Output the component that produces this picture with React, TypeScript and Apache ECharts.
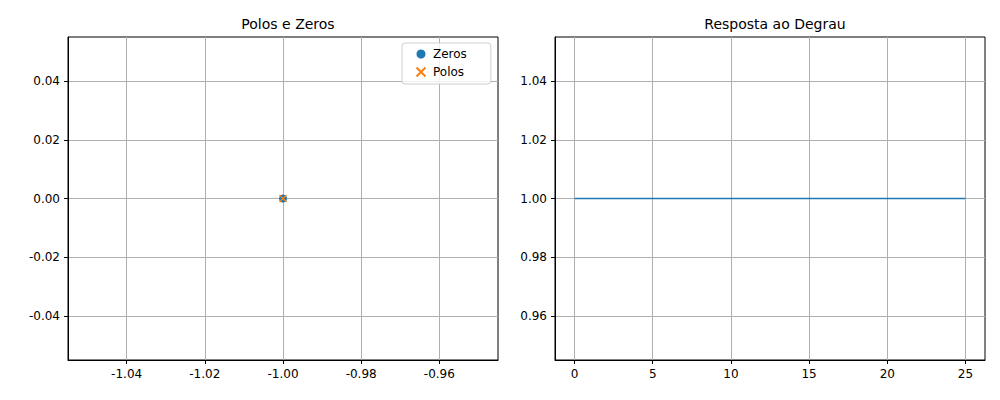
import React from "react";
import * as echarts from "echarts";

const zeros = [[-1, 0]];
const poles = [[-1, 0]];
const poleZeroXTicks = [-1.04, -1.02, -1.0, -0.98, -0.96];
const poleZeroYTicks = [-0.04, -0.02, 0, 0.02, 0.04];
const stepTime = [0, 1, 2, 3, 4, 5, 6, 7, 8, 9, 10, 11, 12, 13, 14, 15, 16, 17, 18, 19, 20, 21, 22, 23, 24, 25];
const stepValue = [1, 1, 1, 1, 1, 1, 1, 1, 1, 1, 1, 1, 1, 1, 1, 1, 1, 1, 1, 1, 1, 1, 1, 1, 1, 1];
const stepXTicks = [0, 5, 10, 15, 20, 25];
const stepYTicks = [0.96, 0.98, 1.0, 1.02, 1.04];

const font = "DejaVu Sans";
const cross = "path://M0,0L10,10M10,0L0,10";

function axis(min: number, max: number, ticks: number[], fmt: (v: number) => string) {
  return {
    type: "value",
    min,
    max,
    axisLine: { show: true, onZero: false, lineStyle: { color: "#000" } },
    axisTick: { show: true, customValues: ticks, length: 4, lineStyle: { color: "#000" } },
    axisLabel: { customValues: ticks, color: "#000", fontFamily: font, fontSize: 12, formatter: fmt },
    splitLine: { show: true, lineStyle: { color: "#b0b0b0", width: 1 } },
  };
}

export default function App() {
  const ref = React.useRef<HTMLDivElement>(null);

  React.useEffect(() => {
    if (!ref.current) return;
    const chart = echarts.init(ref.current, null, { renderer: "svg" });
    const f2 = (v: number) => v.toFixed(2);
    chart.setOption({
      animation: false,
      textStyle: { fontFamily: font },
      title: [
        { text: "Polos e Zeros", left: 283, top: 12, textAlign: "center", textStyle: { fontFamily: font, fontSize: 14, fontWeight: "normal", color: "#000" } },
        { text: "Resposta ao Degrau", left: 770, top: 12, textAlign: "center", textStyle: { fontFamily: font, fontSize: 14, fontWeight: "normal", color: "#000" } },
      ],
      legend: {
        left: 402, top: 43, orient: "vertical", itemGap: 5, itemWidth: 14, itemHeight: 9,
        padding: [5, 24, 5, 12], borderColor: "#cfcfcf", borderWidth: 1, borderRadius: 3,
        backgroundColor: "rgba(255,255,255,0.8)",
        textStyle: { fontFamily: font, fontSize: 12, color: "#000" },
        data: [{ name: "Zeros", icon: "circle" }, { name: "Polos", icon: cross }],
      },
      grid: [
        { left: 68, top: 37, width: 430, height: 323, show: true, borderColor: "#000", backgroundColor: "transparent" },
        { left: 555, top: 37, width: 430, height: 323, show: true, borderColor: "#000", backgroundColor: "transparent" },
      ],
      xAxis: [
        { ...axis(-1.055, -0.945, poleZeroXTicks, f2), gridIndex: 0 },
        { ...axis(-1.25, 26.25, stepXTicks, (v: number) => String(v)), gridIndex: 1 },
      ],
      yAxis: [
        { ...axis(-0.055, 0.055, poleZeroYTicks, f2), gridIndex: 0 },
        { ...axis(0.945, 1.055, stepYTicks, f2), gridIndex: 1 },
      ],
      series: [
        { name: "Zeros", type: "scatter", xAxisIndex: 0, yAxisIndex: 0, data: zeros, symbol: "circle", symbolSize: 8, z: 5, itemStyle: { color: "#1f77b4", opacity: 1 } },
        { name: "Polos", type: "scatter", xAxisIndex: 0, yAxisIndex: 0, data: poles, symbol: cross, symbolSize: 7, z: 6, itemStyle: { color: "none", borderColor: "#ff7f0e", borderWidth: 1.2, opacity: 1 } },
        { name: "step", type: "line", xAxisIndex: 1, yAxisIndex: 1, data: stepTime.map((t, i) => [t, stepValue[i]]), showSymbol: false, lineStyle: { color: "#1f77b4", width: 1.5 } },
      ],
    });
    return () => chart.dispose();
  }, []);

  return <div ref={ref} style={{ width: 1000, height: 400, margin: -8 }} />;
}
